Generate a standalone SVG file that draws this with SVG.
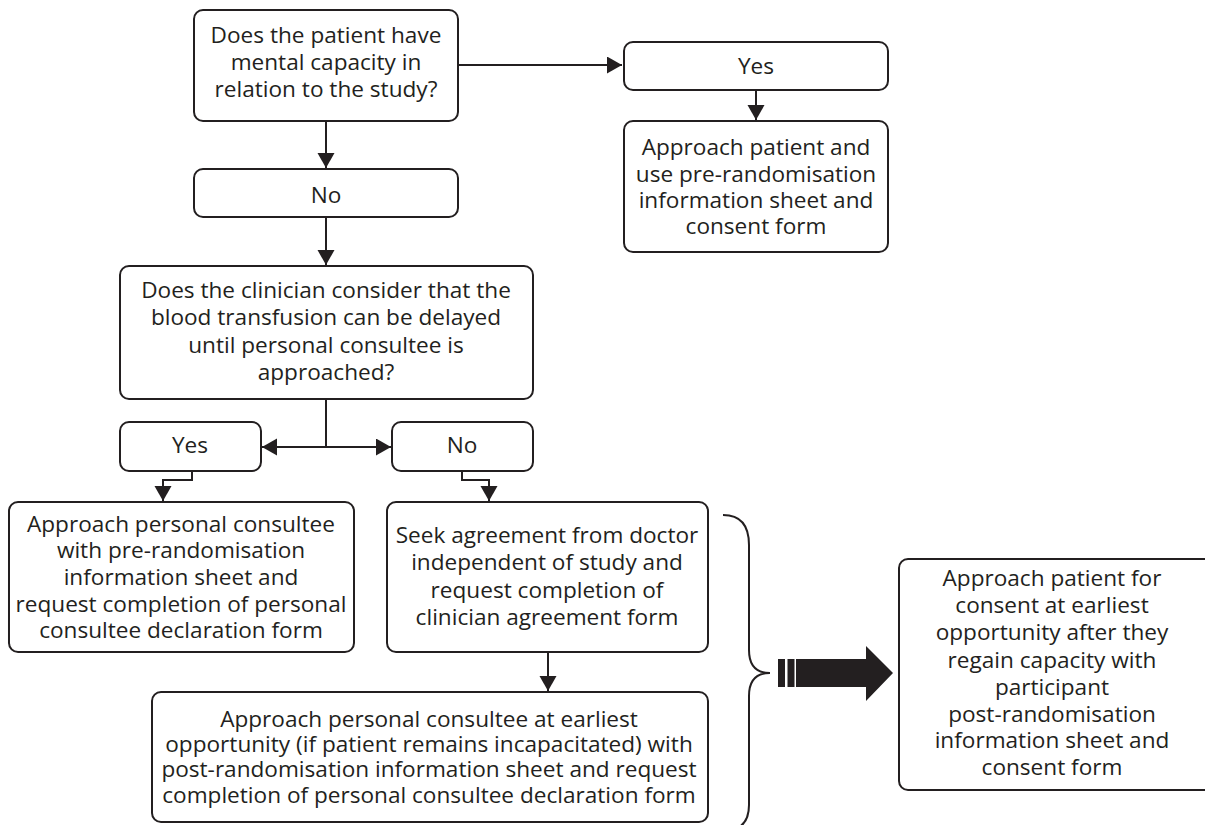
<svg xmlns="http://www.w3.org/2000/svg" width="1205" height="825" viewBox="0 0 1205 825">
<style>
.box{fill:#fff;stroke:#231f20;stroke-width:2}
.t{font-family:"Open Sans","Noto Sans",sans-serif;font-size:22.6px;fill:#231f20;text-anchor:middle}
.ln{fill:none;stroke:#231f20;stroke-width:2}
</style>
<defs>
<marker id="ah" markerUnits="userSpaceOnUse" markerWidth="17" markerHeight="18" refX="15" refY="8.5" orient="auto">
<path d="M0,0 L15,8.5 L0,17 Z" fill="#231f20"/>
</marker>
</defs>
<rect width="1205" height="825" fill="#fff"/>
<g id="connectors">
<path class="ln" d="M458,65 H622" marker-end="url(#ah)"/>
<path class="ln" d="M756,90 V120" marker-end="url(#ah)"/>
<path class="ln" d="M326,121 V168" marker-end="url(#ah)"/>
<path class="ln" d="M326,217 V265" marker-end="url(#ah)"/>
<path class="ln" d="M326,399 V447 H262" marker-end="url(#ah)"/>
<path class="ln" d="M326,447 H391" marker-end="url(#ah)"/>
<path class="ln" d="M192,471 V480 H163 V501" marker-end="url(#ah)"/>
<path class="ln" d="M462,471 V480 H489 V501" marker-end="url(#ah)"/>
<path class="ln" d="M548,652 V691" marker-end="url(#ah)"/>
<path class="ln" d="M723,515 C740,515 749,525 749,545 L749,650 C749,665 756,673 770,673 C756,673 749,681 749,696 L749,805 C749,822 740,831 723,831"/>
<g fill="#231f20">
<rect x="778" y="659" width="7" height="28"/>
<rect x="787.5" y="659" width="7" height="28"/>
<path d="M796,659 H866 V646 L893,673 L866,701 V687 H796 Z"/>
</g>
</g>
<g id="q1">
<rect class="box" x="194" y="10" width="264" height="111" rx="9"/>
<text class="t"><tspan x="326" y="43">Does the patient have</tspan><tspan x="326" y="70">mental capacity in</tspan><tspan x="326" y="97">relation to the study?</tspan></text>
</g>
<g id="yes1">
<rect class="box" x="624" y="42" width="264" height="48" rx="9"/>
<text class="t" x="756" y="74">Yes</text>
</g>
<g id="approach1">
<rect class="box" x="624" y="121" width="264" height="131" rx="9"/>
<text class="t"><tspan x="756" y="155">Approach patient and</tspan><tspan x="756" y="182">use pre-randomisation</tspan><tspan x="756" y="208">information sheet and</tspan><tspan x="756" y="234">consent form</tspan></text>
</g>
<g id="no1">
<rect class="box" x="194" y="169" width="264" height="48" rx="9"/>
<text class="t" x="326" y="203">No</text>
</g>
<g id="q2">
<rect class="box" x="120" y="266" width="413" height="133" rx="9"/>
<text class="t"><tspan x="326" y="298">Does the clinician consider that the</tspan><tspan x="326" y="325">blood transfusion can be delayed</tspan><tspan x="326" y="353">until personal consultee is</tspan><tspan x="326" y="380">approached?</tspan></text>
</g>
<g id="yes2">
<rect class="box" x="120" y="422" width="141" height="49" rx="9"/>
<text class="t" x="190" y="453">Yes</text>
</g>
<g id="no2">
<rect class="box" x="392" y="422" width="141" height="49" rx="9"/>
<text class="t" x="462" y="453">No</text>
</g>
<g id="consultee-pre">
<rect class="box" x="9" y="502" width="345" height="150" rx="9"/>
<text class="t"><tspan x="181" y="532">Approach personal consultee</tspan><tspan x="181" y="558">with pre-randomisation</tspan><tspan x="181" y="585">information sheet and</tspan><tspan x="181" y="612">request completion of personal</tspan><tspan x="181" y="638">consultee declaration form</tspan></text>
</g>
<g id="seek">
<rect class="box" x="387" y="502" width="321" height="150" rx="9"/>
<text class="t"><tspan x="547" y="543">Seek agreement from doctor</tspan><tspan x="547" y="570">independent of study and</tspan><tspan x="547" y="598">request completion of</tspan><tspan x="547" y="625">clinician agreement form</tspan></text>
</g>
<g id="consultee-post">
<rect class="box" x="152" y="692" width="556" height="130" rx="9"/>
<text class="t"><tspan x="429" y="727">Approach personal consultee at earliest</tspan><tspan x="429" y="752">opportunity (if patient remains incapacitated) with</tspan><tspan x="429" y="777">post-randomisation information sheet and request</tspan><tspan x="429" y="803">completion of personal consultee declaration form</tspan></text>
</g>
<g id="final">
<rect class="box" x="899" y="559" width="320" height="231" rx="9"/>
<text class="t"><tspan x="1052" y="586">Approach patient for</tspan><tspan x="1052" y="613">consent at earliest</tspan><tspan x="1052" y="640">opportunity after they</tspan><tspan x="1052" y="668">regain capacity with</tspan><tspan x="1052" y="695">participant</tspan><tspan x="1052" y="722">post-randomisation</tspan><tspan x="1052" y="748">information sheet and</tspan><tspan x="1052" y="775">consent form</tspan></text>
</g>
</svg>
